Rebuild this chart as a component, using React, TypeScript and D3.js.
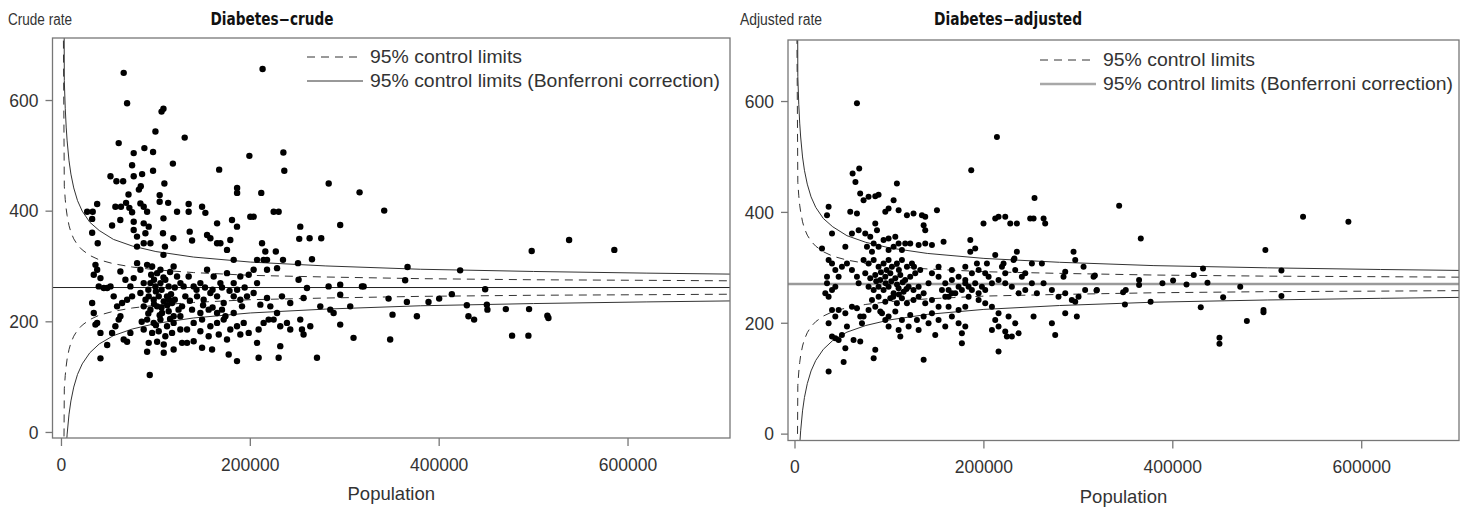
import React, { useRef, useEffect } from "react";
import * as d3 from "d3";

// population in thousands, rate per 100 000
const crudePoints: [number, number][] = [
  [65.9,650],[69.5,595],[108,585],[106,580],[99.5,544],[130.5,533],[60.6,523],[76.5,505],[87.8,514],[97,507],[199,500],[235,506],[213,657],[236,473],[118,486],[74.8,483],[85.4,467],[76.5,463],[97,473],[167,475],[51.9,463],[58.2,454],[65.3,454],[109,450],[84,445],[82,439],[71,430],[104,429],[104,417],[186,442],[186,433],[211.6,433],[283,450],[315.7,434],
  [27.2,399],[33.1,399],[37.8,413],[32.5,386],[32.5,361],[38.4,342],[53.6,374],[57.1,408],[63,408],[68.4,415],[71.9,406],[62.3,384],[74.8,398],[76.5,381],[83.6,414],[87.1,408],[90.7,399],[76.5,366],[87.1,378],[92.4,372],[80,354],[88.9,360],[94.2,342],[80,336],[87.1,342],[108,387],[113,415],[122.4,399],[134.7,413],[134.7,399],[148.9,408],[152.4,397],[107.5,360],[118.5,351],[108,321],[109.6,336],[135.8,363],[138.3,347],[154.2,357],[157.7,351],[164.8,378],[168.3,342],[178.8,348],[180.6,384],[185.9,372],[164.8,342],[175.3,330],[200,390],[203.5,390],[224.7,399],[230,399],[212.4,342],[215.9,327],[214.1,312],[217.7,312],[227,327],[252.9,372],[251.8,350],[262.8,351],[275.1,351],[265.3,313],[250.5,306],[295.2,375],[234.6,312],
  [36,303],[37.8,294],[34.2,285],[41.3,279],[39.5,264],[48.4,261],[51.9,264],[32.5,234],[34.2,216],[37.8,198],[36,195],[41.3,180],[48.4,158],[41.3,134],[44.8,261],
  [55.3,246],[58.9,228],[60.6,204],[57.1,192],[53.6,180],[65.9,168],[69.5,164],[73,180],[62.4,210],[64.2,234],[69.5,240],[74.8,246],[67.7,276],[62.4,291],[73,264],[76.5,279],
  [80.1,306],[83.6,294],[90.7,303],[96,300],[101.3,288],[104.8,294],[87.1,270],[94.2,270],[99.5,264],[104.8,270],[110,276],[113.5,264],[83.6,252],[92.4,246],[97.7,240],[103,246],[108.3,237],[111.8,246],[117.1,234],[87.1,228],[94.2,222],[101.3,228],[106.5,216],[113.5,219],[118.8,210],[90.7,204],[97.7,198],[104.8,204],[111.8,192],[118.8,198],[125.9,210],[87.1,186],[96,180],[103,183],[110,174],[117.1,180],[125.9,186],[92.4,162],[101.3,164],[108.3,159],[90.7,146],[108.3,144],[118.8,150],[127.7,162],[133,186],[127.7,228],[131.2,246],[129.4,264],[122.4,282],[118.8,300],
  [95,285],[100,255],[106,258],[112,230],[98,232],[104,212],[115,205],[89,240],[120,240],[124,222],[108,280],[115,290],[92,215],[100,194],[85,200],[93.5,104],
  [143,258],[152,262],[160,258],[170,262],[178,256],[186,258],[194,262],[150,230],[160,226],[170,222],[120,262],[126,270],[116,250],[136,238],[98,276],[92,258],[106,226],[114,240],
  [134.7,282],[140,264],[147.1,270],[154.2,294],[161.2,282],[168.3,270],[175.3,288],[182.4,270],[189.4,282],[198.3,285],[143.6,246],[150.6,240],[157.7,252],[164.8,246],[171.8,234],[182.4,246],[189.4,240],[196.5,246],[203.5,252],[138.3,222],[147.1,216],[155.9,222],[164.8,216],[173.6,210],[182.4,216],[191.2,228],[140,198],[148.9,204],[157.7,192],[164.8,198],[171.8,204],[178.8,186],[185.9,192],[193,198],[147.1,183],[155.9,174],[166.6,177],[175.3,168],[189.4,177],[198.3,180],[133,162],[140,165],[148.9,153],[159.5,150],[177.1,141],[185.9,129],[208.8,135],[207.1,162],[208.8,186],[214.1,198],[219.4,204],[210.6,231],[217.7,243],[207.1,270],
  [182.4,312],[203.5,294],[207.1,312],[217.7,294],[228.3,297],
  [221.2,228],[228.3,216],[224.7,204],[231.7,192],[238.8,198],[242.3,186],[252.9,204],[254.7,186],[256.4,177],[263.5,192],[231.7,156],[230,135],[270.6,135],[295.2,195],[309.3,171],[295.2,249],[305.8,228],[282.9,264],[295.2,267],[318.2,264],[260,261],[256.4,243],[233.5,246],[242.3,234],[274.1,228],[284.7,222],[288.2,216],[251.1,276],
  [341.8,401],[537.6,348],[498,328],[585.5,330],[366.5,299],[422.2,293],[364,275],[320,264],[448.7,259],[413.4,250],[346.4,242],[365.8,236],[388.7,236],[400,242],[429.3,230],[450.5,231],[451.1,222],[350.6,213],[376.4,210],[431,210],[437,204],[470.6,223],[495.2,223],[514.6,211],[515.7,207],[348.1,168],[477.2,175],[494.5,175],
];

const adjustedPoints: [number, number][] = [
  [65.6,597],[213.8,536],[186.6,476],[253.6,426],
  [61,470],[68,479],[64,455],[69,434],[72.6,422],[77.9,428],[85,429],[88.5,432],
  [35.6,410],[33.9,395],[39.2,362],[28.6,335],
  [53.3,338],[58.5,401],[65.6,398],[67.4,368],[60.3,362],
  [95.6,401],[99.1,407],[104.4,422],[107.9,452],[109.7,404],[118.5,395],[125.5,398],
  [134.4,395],[137.9,392],[136.2,377],[137.9,368],[150.3,404],[145,341],[157.3,347],[85,380],[86.8,368],
  [99.1,353],[106.2,356],[116.7,344],[122,344],[130.9,341],[137.9,344],
  [185.6,350],[190.8,335],[185.6,329],
  [199.6,380],[212,389],[215.5,392],[222.6,392],[227.9,380],[234.9,380],
  [249,389],[252.6,389],[263.2,389],[264.9,380],
  [234.9,329],[232.3,317],[219.1,302],[220.8,308],[212,323],
  [261.4,308],[294.9,329],[296.7,314],[305.5,302],[316.1,284],[284.3,284],[286.1,293],[307.2,260],[319.6,260],
  [162.6,260],[166.1,254],[159.1,248],[173.2,266],[180.3,272],[187.3,260],[194.4,254],[201.4,260],[208.5,272],[215.5,278],[222.6,272],[229.6,266],[236.7,254],[243.8,260],[250.8,272],[256.1,254],[263.2,272],[272,260],[279,248],[286.1,254],[293.1,242],[300.2,248],
  [208.5,230],[215.5,218],[212,206],[226.1,212],[233.2,200],[215.5,194],[208.5,188],[222.6,185],[236.7,182],[229.6,176],[252.6,212],[272,200],[275.5,179],[286.1,218],[296.7,239],[298.4,212],[215.5,149],[224.3,176],
  [39.2,308],[35.6,314],[42.7,296],[33.9,284],[33.9,272],[39.2,260],[32.1,254],[35.6,248],[42.7,266],[46.2,284],[49.7,302],[55,308],[60.3,296],[65.6,284],[67.4,272],[39.2,224],[35.6,200],[42.7,212],[46.2,224],[53.3,218],[60.3,230],[65.6,227],[69.1,212],[70.9,200],[39.2,176],[42.7,173],[46.2,170],[49.7,179],[55,194],[62,170],[69.1,167],[53.3,155],[85,152],[83.3,137],[51.5,130],[35.6,113],[72.6,212],[77.9,224],[85,230],[90.3,221],
  [74.4,362],[79.7,356],[83.3,344],[76.2,338],[81.5,329],[88.5,338],[93.8,350],[99.1,332],[104.4,338],[109.7,344],[113.2,332],[72.6,314],[77.9,308],[83.3,314],[88.5,302],[93.8,308],[99.1,314],[102.6,302],[107.9,308],[113.2,314],[118.5,302],[123.8,308],[74.4,290],[79.7,281],[85,287],[90.3,278],[95.6,284],[100.9,290],[106.2,281],[111.5,287],[116.7,278],[122,284],[127.3,290],[132.6,296],[77.9,266],[83.3,260],[88.5,266],[93.8,260],[99.1,266],[104.4,254],[109.7,263],[115,257],[120.3,266],[125.5,260],[130.9,266],[136.2,254],[141.4,272],[145,290],[81.5,242],[88.5,248],[95.6,239],[100.9,245],[107.9,236],[113.2,245],[118.5,236],[125.5,242],[130.9,248],[137.9,236],[145,242],[92.1,218],[99.1,212],[106.2,221],[113.2,206],[122,215],[129.1,206],[136.2,212],[145,218],[152,230],[99.1,194],[109.7,188],[120.3,194],[130.9,188],[141.4,200],[148.5,179],[152,206],[159.1,194],[166.1,212],[173.2,200],[176.7,182],[180.3,194],[176.7,164],[136.2,134],[111.5,176],[95.6,206],
  [96,272],[102,276],[108,270],[114,274],[118,262],[91,292],[97,296],[110,296],[104,248],[110,252],[86,276],[126,302],
  [152,284],[159.1,272],[166.1,278],[173.2,284],[180.3,278],[187.3,290],[194.4,296],[201.4,290],[155.6,260],[162.6,248],[169.7,254],[176.7,260],[183.8,266],[190.8,272],[197.9,266],[205,284],[152,302],[166.1,296],[180.3,302],[192.6,308],[203.2,308],[183.8,248],[194.4,242],[201.4,236],[180.3,230],[173.2,224],[162.6,230],
  [222.6,290],[231.4,314],[233.2,296],[240.2,284],[250.8,308],[243.8,290],
  [343.2,412],[366.1,353],[537.9,392],[585.9,383],[498,332],[515,295],[432,299],[422.2,287],[317.5,286],[364.3,278],[364.3,269],[389,272],[400.3,277],[414.5,270],[436.7,273],[319.2,259],[347.4,256],[350.2,260],[471.4,266],[453.3,247],[515,249],[349.3,234],[376.5,239],[429.6,229],[478.4,204],[496,224],[496,220],[449.4,174],[449.4,163],
];

// control limits read along the population axis (thousands)
const limitPop = [0.1, 3, 4, 5, 6, 8, 10, 13, 17, 22, 30, 40, 55, 75, 100, 140, 200, 280, 380, 500, 620, 720];

const crudeMean = 262;
const crudeDashUp = [1265, 445, 421, 404, 392, 374, 362, 350, 339, 330, 320, 312, 305, 299, 294, 289, 284, 281, 278, 276, 275, 274];
const crudeDashLo = [-741, 79, 103, 120, 133, 150, 162, 174, 185, 194, 204, 212, 219, 225, 230, 235, 240, 243, 246, 248, 249, 250];
const crudeBonfUp = [2312, 636, 586, 552, 527, 491, 467, 442, 419, 400, 380, 365, 349, 337, 327, 317, 308, 301, 295, 291, 288, 286];
const crudeBonfLo = [-1788, -112, -62, -28, -3, 33, 57, 82, 105, 124, 144, 160, 175, 187, 197, 207, 216, 223, 229, 233, 236, 238];

const adjMean = 271;
const adjDashUp = [1274, 454, 430, 413, 401, 383, 371, 359, 348, 339, 329, 321, 314, 308, 303, 298, 293, 290, 287, 285, 284, 283];
const adjDashLo = [-732, 88, 112, 129, 142, 159, 171, 183, 194, 203, 213, 221, 228, 234, 239, 244, 249, 252, 255, 257, 258, 259];
const adjBonfUp = [2321, 645, 595, 561, 536, 500, 476, 451, 428, 409, 389, 374, 358, 346, 336, 326, 317, 310, 304, 300, 297, 295];
const adjBonfLo = [-1779, -103, -53, -19, 6, 42, 66, 91, 114, 133, 153, 169, 184, 196, 206, 216, 225, 232, 238, 242, 245, 247];

const xTicks = [0, 200, 400, 600];
const yTicks = [0, 200, 400, 600];
const legendLabels = ["95% control limits", "95% control limits (Bonferroni correction)"];

const panels = [
  {
    id: "crude", left: 52.5, right: 730, top: 38, bottom: 438,
    xDomain: [-9.5, 708], yDomain: [-10, 713],
    title: "Diabetes\u2212crude", titleX: 272, titleLen: 123, ylab: "Crude rate", ylabX: 8, ylabLen: 64,
    points: crudePoints, mean: crudeMean, dashUp: crudeDashUp, dashLo: crudeDashLo,
    bonfUp: crudeBonfUp, bonfLo: crudeBonfLo, legendX: 307, legendY: 57, r: 3.2,
    meanColor: "#222", meanWidth: 1, legendSolid: "#333", legendSolidWidth: 1,
  },
  {
    id: "adj", left: 788, right: 1459, top: 40, bottom: 440.5,
    xDomain: [-7.4, 703], yDomain: [-11.5, 711],
    title: "Diabetes\u2212adjusted", titleX: 1008, titleLen: 148, ylab: "Adjusted rate", ylabX: 740, ylabLen: 82,
    points: adjustedPoints, mean: adjMean, dashUp: adjDashUp, dashLo: adjDashLo,
    bonfUp: adjBonfUp, bonfLo: adjBonfLo, legendX: 1040, legendY: 60, r: 3,
    meanColor: "#9a9a9a", meanWidth: 2.5, legendSolid: "#a8a8a8", legendSolidWidth: 2.5,
  },
];

const App = () => {
  const svgRef = useRef<SVGSVGElement>(null);

  useEffect(() => {
    const svg = d3.select(svgRef.current);
    svg.selectAll("*").remove();

    panels.forEach(p => {
      const g = svg.append("g");
      const x = d3.scaleLinear().domain(p.xDomain).range([p.left, p.right]);
      const y = d3.scaleLinear().domain(p.yDomain).range([p.bottom, p.top]);

      svg.append("clipPath").attr("id", "clip-" + p.id)
        .append("rect")
        .attr("x", p.left).attr("y", p.top)
        .attr("width", p.right - p.left).attr("height", p.bottom - p.top);

      const plot = g.append("g").attr("clip-path", `url(#clip-${p.id})`);

      const line = (vals: number[]) =>
        d3.line<number>().x((_, i) => x(limitPop[i])).y(d => y(d))(vals);

      // mean line
      plot.append("line")
        .attr("x1", p.left).attr("x2", p.right)
        .attr("y1", y(p.mean)).attr("y2", y(p.mean))
        .attr("stroke", p.meanColor).attr("stroke-width", p.meanWidth);

      [p.dashUp, p.dashLo].forEach(v => {
        plot.append("path").attr("d", line(v))
          .attr("fill", "none").attr("stroke", "#333").attr("stroke-width", 1)
          .attr("stroke-dasharray", "8,6");
      });
      [p.bonfUp, p.bonfLo].forEach(v => {
        plot.append("path").attr("d", line(v))
          .attr("fill", "none").attr("stroke", "#333").attr("stroke-width", 1);
      });

      // points
      plot.selectAll("circle")
        .data(p.points)
        .join("circle")
        .attr("cx", d => x(d[0]))
        .attr("cy", d => y(d[1]))
        .attr("r", p.r)
        .attr("fill", "#000");

      // frame
      g.append("rect")
        .attr("x", p.left).attr("y", p.top)
        .attr("width", p.right - p.left).attr("height", p.bottom - p.top)
        .attr("fill", "none").attr("stroke", "#777").attr("stroke-width", 1.3);

      // x axis
      g.selectAll("line.xt").data(xTicks).join("line")
        .attr("class", "xt")
        .attr("x1", d => x(d)).attr("x2", d => x(d))
        .attr("y1", p.bottom).attr("y2", p.bottom + 8)
        .attr("stroke", "#777").attr("stroke-width", 1.3);
      g.selectAll("text.xl").data(xTicks).join("text")
        .attr("class", "xl")
        .attr("x", d => x(d)).attr("y", p.bottom + 32.5)
        .attr("text-anchor", "middle")
        .attr("fill", "#333")
        .style("font-size", "17.5px")
        .text(d => String(d * 1000));

      // y axis
      g.selectAll("line.yt").data(yTicks).join("line")
        .attr("class", "yt")
        .attr("x1", p.left - 7).attr("x2", p.left)
        .attr("y1", d => y(d)).attr("y2", d => y(d))
        .attr("stroke", "#777").attr("stroke-width", 1.3);
      g.selectAll("text.yl").data(yTicks).join("text")
        .attr("class", "yl")
        .attr("x", p.left - 14).attr("y", d => y(d))
        .attr("dy", "0.36em")
        .attr("text-anchor", "end")
        .attr("fill", "#333")
        .style("font-size", "17.5px")
        .text(d => String(d));

      g.append("text")
        .attr("x", (p.left + p.right) / 2).attr("y", p.bottom + 62)
        .attr("text-anchor", "middle").attr("fill", "#333")
        .style("font-size", "18.5px")
        .text("Population");

      g.append("text")
        .attr("x", p.ylabX).attr("y", 25)
        .attr("fill", "#333")
        .attr("textLength", p.ylabLen).attr("lengthAdjust", "spacingAndGlyphs")
        .style("font-size", "16px")
        .text(p.ylab);

      g.append("text")
        .attr("x", p.titleX).attr("y", 25)
        .attr("text-anchor", "middle").attr("fill", "#111")
        .attr("textLength", p.titleLen).attr("lengthAdjust", "spacingAndGlyphs")
        .style("font-family", "'DejaVu Sans', Verdana, sans-serif")
        .style("font-weight", "bold")
        .style("font-size", "17px")
        .text(p.title);

      // legend
      const leg = g.append("g");
      leg.append("line")
        .attr("x1", p.legendX).attr("x2", p.legendX + 56)
        .attr("y1", p.legendY).attr("y2", p.legendY)
        .attr("stroke", "#333").attr("stroke-width", 1).attr("stroke-dasharray", "8,6");
      leg.append("line")
        .attr("x1", p.legendX).attr("x2", p.legendX + 56)
        .attr("y1", p.legendY + 24).attr("y2", p.legendY + 24)
        .attr("stroke", p.legendSolid).attr("stroke-width", p.legendSolidWidth);
      leg.selectAll("text").data(legendLabels).join("text")
        .attr("x", p.legendX + 63)
        .attr("y", (_, i) => p.legendY + i * 24)
        .attr("dy", "0.35em")
        .attr("fill", "#333")
        .attr("textLength", (_, i) => (i === 0 ? 152 : 350))
        .attr("lengthAdjust", "spacingAndGlyphs")
        .style("font-size", "18px")
        .text(d => d);
    });
  }, []);

  return (
    <svg
      ref={svgRef}
      width={1464}
      height={507}
      style={{ position: "absolute", left: 0, top: 0, background: "#fff", fontFamily: "'Liberation Sans', Arial, sans-serif" }}
    />
  );
};

export default App;
